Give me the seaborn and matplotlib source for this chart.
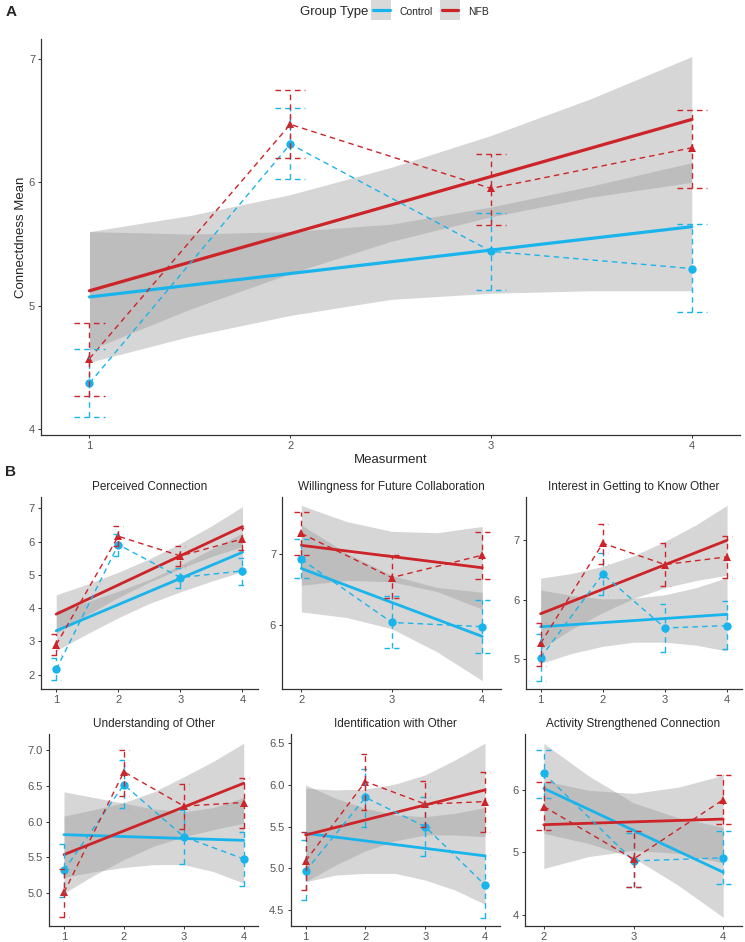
import numpy as np
import pandas as pd
import matplotlib
matplotlib.use('Agg')
import matplotlib.pyplot as plt
import seaborn as sns
from matplotlib.lines import Line2D
from matplotlib.legend_handler import HandlerTuple

sns.set_style('white')
plt.rcParams['font.family'] = ['Liberation Sans', 'DejaVu Sans']

# ---- data (panel A first, then the six B panels) ----
groups = ['Control', 'NFB']
palette = {'Control': '#1AB4EC', 'NFB': '#CC2428'}

titles = ['', 'Perceived Connection', 'Willingness for Future Collaboration',
          'Interest in Getting to Know Other', 'Understanding of Other',
          'Identification with Other', 'Activity Strengthened Connection']

x_vals = [[1, 2, 3, 4], [1, 2, 3, 4], [2, 3, 4], [1, 2, 3, 4],
          [1, 2, 3, 4], [1, 2, 3, 4], [2, 3, 4]]

ctrl_mean = [[4.37, 6.31, 5.44, 5.30], [2.16, 5.91, 4.92, 5.12], [6.93, 6.03, 5.97],
             [5.02, 6.43, 5.52, 5.56], [5.32, 6.52, 5.79, 5.48], [4.97, 5.85, 5.50, 4.80],
             [6.26, 4.86, 4.91]]
ctrl_err_lo = [[4.10, 6.03, 5.13, 4.95], [1.85, 5.57, 4.60, 4.69], [6.67, 5.66, 5.59],
               [4.63, 6.08, 5.12, 5.16], [4.95, 6.19, 5.41, 5.10], [4.62, 5.50, 5.15, 4.41],
               [5.87, 4.45, 4.49]]
ctrl_err_hi = [[4.65, 6.60, 5.75, 5.66], [2.50, 6.23, 5.22, 5.51], [7.22, 6.41, 6.35],
               [5.41, 6.79, 5.92, 5.98], [5.69, 6.86, 6.17, 5.86], [5.34, 6.19, 5.85, 5.16],
               [6.63, 5.30, 5.34]]

nfb_mean = [[4.57, 6.47, 5.95, 6.28], [2.90, 6.16, 5.57, 6.08], [7.30, 6.67, 6.99],
            [5.26, 6.95, 6.59, 6.72], [5.01, 6.70, 6.22, 6.27], [5.09, 6.04, 5.77, 5.80],
            [5.73, 4.89, 5.84]]
nfb_err_lo = [[4.27, 6.20, 5.65, 5.95], [2.60, 5.86, 5.28, 5.75], [6.99, 6.38, 6.65],
              [4.87, 6.60, 6.23, 6.36], [4.66, 6.36, 5.90, 5.91], [4.74, 5.70, 5.50, 5.44],
              [5.36, 4.45, 5.45]]
nfb_err_hi = [[4.86, 6.75, 6.23, 6.59], [3.21, 6.46, 5.86, 6.40], [7.61, 6.99, 7.32],
              [5.61, 7.28, 6.95, 7.08], [5.34, 7.01, 6.53, 6.62], [5.44, 6.37, 6.05, 6.16],
              [6.12, 5.34, 6.24]]

# linear fit value at first and last measurement
ctrl_fit = [[5.07, 5.64], [3.32, 5.68], [6.80, 5.83], [5.54, 5.75],
            [5.82, 5.74], [5.42, 5.15], [6.02, 4.68]]
nfb_fit = [[5.12, 6.51], [3.82, 6.45], [7.13, 6.81], [5.76, 7.00],
           [5.54, 6.54], [5.40, 5.94], [5.44, 5.53]]

# confidence bands, read at every half measurement
band_x = [[1, 1.5, 2, 2.5, 3, 3.5, 4]] * 2 + [[2, 2.5, 3, 3.5, 4]] + \
         [[1, 1.5, 2, 2.5, 3, 3.5, 4]] * 3 + [[2, 2.5, 3, 3.5, 4]]
ctrl_band_lo = [[4.54, 4.75, 4.92, 5.05, 5.10, 5.12, 5.12],
                [2.72, 3.23, 3.71, 4.14, 4.49, 4.81, 5.10],
                [6.18, 6.10, 5.94, 5.61, 5.20],
                [4.92, 5.09, 5.21, 5.28, 5.28, 5.23, 5.13],
                [5.22, 5.30, 5.36, 5.40, 5.40, 5.30, 5.14],
                [4.84, 4.92, 4.94, 4.94, 4.86, 4.74, 4.57],
                [5.30, 5.14, 4.91, 4.47, 3.96]]
ctrl_band_hi = [[5.60, 5.58, 5.60, 5.66, 5.80, 5.97, 6.16],
                [3.92, 4.19, 4.51, 4.86, 5.29, 5.77, 6.26],
                [7.42, 7.02, 6.70, 6.53, 6.46],
                [6.16, 6.07, 6.01, 6.02, 6.08, 6.20, 6.37],
                [6.42, 6.34, 6.26, 6.18, 6.14, 6.20, 6.34],
                [6.00, 5.84, 5.72, 5.64, 5.62, 5.66, 5.73],
                [6.74, 6.22, 5.79, 5.55, 5.40]]
nfb_band_lo = [[4.64, 4.97, 5.26, 5.52, 5.72, 5.88, 6.00],
               [3.24, 3.80, 4.32, 4.78, 5.19, 5.55, 5.85],
               [6.56, 6.63, 6.61, 6.47, 6.22],
               [5.16, 5.50, 5.78, 6.02, 6.20, 6.32, 6.41],
               [5.00, 5.25, 5.47, 5.66, 5.79, 5.89, 5.98],
               [4.84, 5.04, 5.21, 5.33, 5.40, 5.40, 5.38],
               [4.74, 4.93, 5.03, 4.98, 4.83]]
nfb_band_hi = [[5.60, 5.73, 5.90, 6.12, 6.38, 6.68, 7.02],
               [4.40, 4.72, 5.08, 5.48, 5.95, 6.47, 7.05],
               [7.70, 7.47, 7.33, 7.31, 7.40],
               [6.36, 6.44, 6.56, 6.74, 6.98, 7.26, 7.59],
               [6.08, 6.17, 6.27, 6.42, 6.63, 6.85, 7.10],
               [5.96, 5.94, 5.95, 6.01, 6.12, 6.30, 6.50],
               [6.14, 5.99, 5.94, 6.04, 6.23]]

y_ticks = [[4, 5, 6, 7], [2, 3, 4, 5, 6, 7], [6, 7], [5, 6, 7],
           [5.0, 5.5, 6.0, 6.5, 7.0], [4.5, 5.0, 5.5, 6.0, 6.5], [4, 5, 6]]

# ---- layout (pixels: left, top, right, bottom) ----
W, H = 745, 942
rects = [(41.3, 39.3, 740, 435),
         (40.7, 497, 258, 689), (282.3, 497, 501.3, 689), (525.7, 497, 742, 689),
         (49.3, 734, 258.4, 926), (290.7, 734, 500, 926), (525, 734, 742, 926)]
xlims = [(0.76, 4.24), (0.75, 4.25), (1.79, 4.21), (0.76, 4.24),
         (0.755, 4.245), (0.75, 4.25), (1.79, 4.21)]
ylims = [(3.95, 7.16), (1.57, 7.34), (5.08, 7.82), (4.49, 7.73),
         (4.54, 7.23), (4.31, 6.61), (3.82, 6.89)]

fig = plt.figure(figsize=(W / 100, H / 100), dpi=100)

dash = (0, (4, 3))
for i in range(7):
    l, t, r, b = rects[i]
    ax = fig.add_axes([l / W, 1 - b / H, (r - l) / W, (b - t) / H])
    x = np.array(x_vals[i], dtype=float)

    bands = {'Control': (ctrl_band_lo[i], ctrl_band_hi[i]),
             'NFB': (nfb_band_lo[i], nfb_band_hi[i])}
    for g in groups:
        ax.fill_between(band_x[i], bands[g][0], bands[g][1],
                        color='#999999', alpha=0.4, lw=0, zorder=1)

    fit = pd.DataFrame({'x': [x[0], x[-1]] * 2,
                        'y': ctrl_fit[i] + nfb_fit[i],
                        'group': ['Control'] * 2 + ['NFB'] * 2})
    sns.lineplot(data=fit, x='x', y='y', hue='group', palette=palette,
                 lw=2.3 if i == 0 else 2.0, legend=False, ax=ax, zorder=3)

    means = pd.DataFrame({'x': list(x) * 2,
                          'y': ctrl_mean[i] + nfb_mean[i],
                          'group': ['Control'] * len(x) + ['NFB'] * len(x)})
    sns.lineplot(data=means, x='x', y='y', hue='group', style='group',
                 palette=palette, markers={'Control': 'o', 'NFB': '^'},
                 dashes={'Control': (4, 3), 'NFB': (4, 3)}, lw=1.0,
                 markersize=6, markeredgewidth=0, legend=False, ax=ax, zorder=4)

    errs = {'Control': (ctrl_err_lo[i], ctrl_err_hi[i]),
            'NFB': (nfb_err_lo[i], nfb_err_hi[i])}
    cap = 0.075 if i == 0 else 0.08
    if i in (2, 6):
        cap = 0.085
    for g in groups:
        lo, hi = errs[g]
        c = palette[g]
        ax.vlines(x, lo, hi, colors=c, linestyles=dash, lw=1.0, zorder=4)
        ax.hlines(lo, x - cap, x + cap, colors=c, linestyles=dash, lw=1.0, zorder=4)
        ax.hlines(hi, x - cap, x + cap, colors=c, linestyles=dash, lw=1.0, zorder=4)

    ax.set_xlim(*xlims[i])
    ax.set_ylim(*ylims[i])
    ax.set_xticks(x_vals[i])
    ax.set_xticklabels([str(v) for v in x_vals[i]])
    ax.set_yticks(y_ticks[i])
    if i in (4, 5):
        ax.set_yticklabels(['%.1f' % v for v in y_ticks[i]])
    else:
        ax.set_yticklabels([str(int(v)) for v in y_ticks[i]])
    sns.despine(ax=ax)
    for s in ('left', 'bottom'):
        ax.spines[s].set_color('#333333')
        ax.spines[s].set_linewidth(0.9)
    ax.tick_params(axis='both', length=2.5, width=0.7, color='#333333',
                   labelsize=8, labelcolor='#555555', pad=2, left=True, bottom=True)
    ax.set_xlabel('')
    ax.set_ylabel('')
    if titles[i]:
        ax.set_title(titles[i], fontsize=8.5, pad=5)

    if i == 0:
        ax.set_xlabel('Measurment', fontsize=9.5)
        ax.set_ylabel('Connectdness Mean', fontsize=9.5)
        ax.xaxis.set_label_coords(0.5, -0.048)
        ax.yaxis.set_label_coords(-0.02, 0.5)

# legend at the top: grey key box with the group's line in it
handles = [(Line2D([], [], ls='none', marker='s', markersize=14.5,
                   markerfacecolor='#D9D9D9', markeredgewidth=0),
            Line2D([], [], color=palette[g], lw=2.3)) for g in groups]
fig.legend(handles, groups, handler_map={tuple: HandlerTuple(ndivide=1, pad=0)},
           loc='center left', bbox_to_anchor=(373 / W, 1 - 12 / H), ncol=2,
           frameon=False, fontsize=7.5, handlelength=1.6, handleheight=2.0,
           handletextpad=0.9, columnspacing=0.9, borderpad=0, borderaxespad=0)
fig.text(368 / W, 1 - 12 / H, 'Group Type', ha='right', va='center', fontsize=9.5)

fig.text(11 / W, 1 - 12 / H, 'A', ha='center', va='center', fontsize=11, fontweight='bold')
fig.text(10.5 / W, 1 - 471.5 / H, 'B', ha='center', va='center', fontsize=11, fontweight='bold')

fig.savefig('out.png', dpi=100)
